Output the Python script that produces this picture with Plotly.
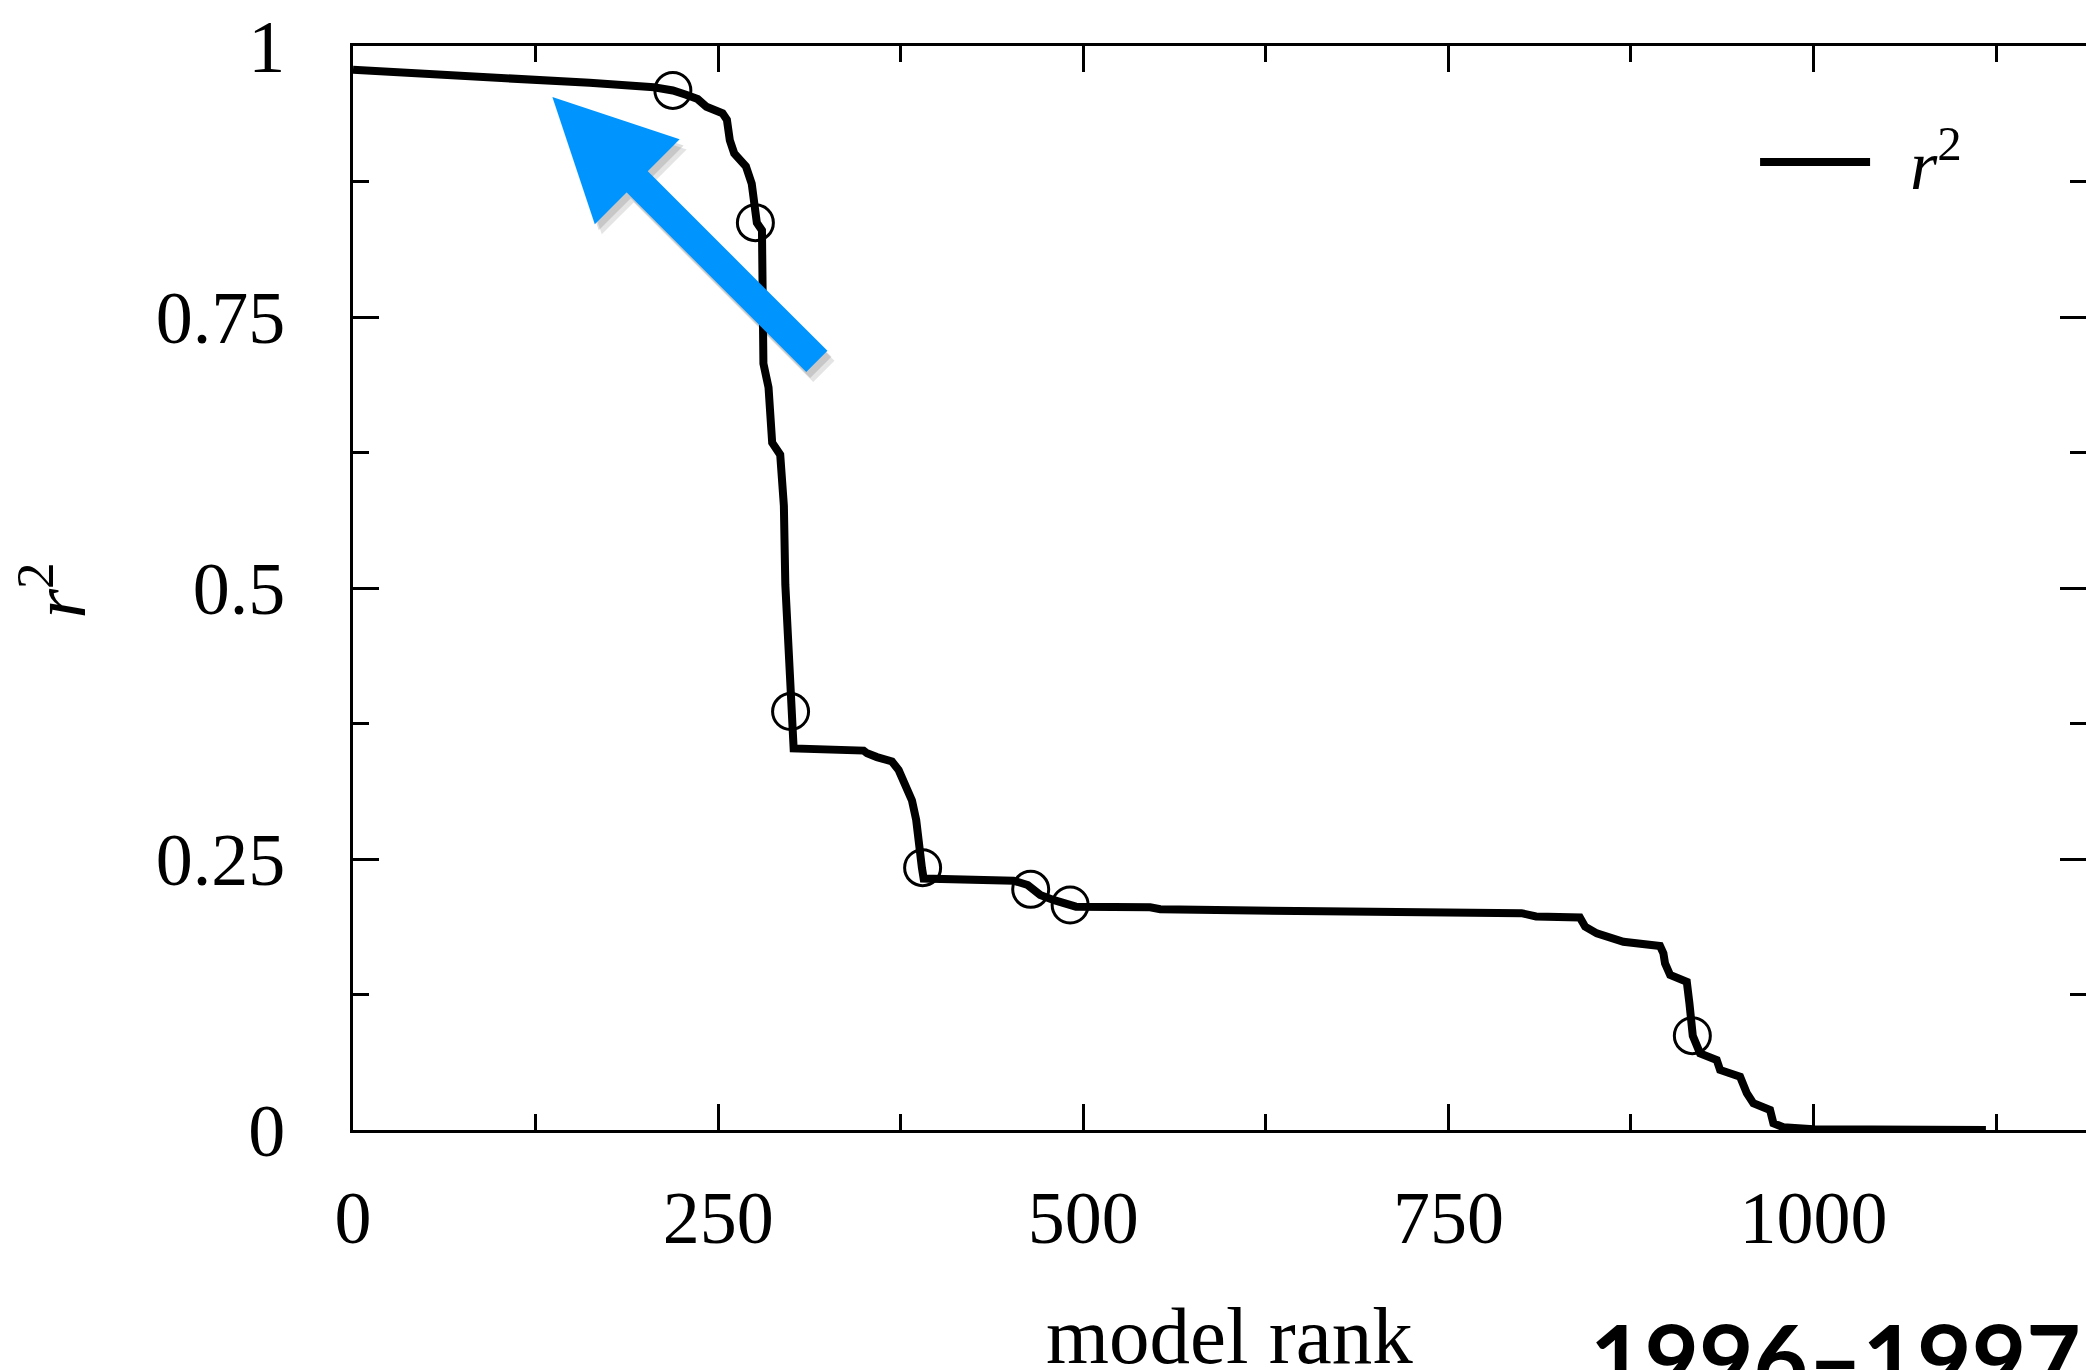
import plotly.graph_objects as go

# ---- data ----
rank = [0, 60, 120, 162, 206, 219, 228, 236, 242, 253, 256, 258, 261, 265, 269, 273,
        275.5, 276.5, 280, 280.5, 281, 284.5, 287, 292.5, 295, 296, 297.6, 299.4, 301.7,
        349.6, 352, 358.7, 369, 373.6, 378, 382.7, 385.6, 387.2, 389.5, 390.7,
        452.3, 462, 470.5, 480, 491, 495, 545.8, 552.7, 663.8, 782, 800, 810, 840,
        843.6, 851.6, 869.8, 894.9, 897.2, 898.3, 901.8, 913.2, 915, 917.3, 922.3,
        933.7, 936, 949.7, 954.3, 958.8, 970.2, 972.5, 979.3, 1000, 1118]
r2 = [0.978, 0.974, 0.969, 0.966, 0.962, 0.959, 0.955, 0.951, 0.944, 0.938, 0.932, 0.913,
      0.901, 0.895, 0.889, 0.873, 0.852, 0.837, 0.830, 0.758, 0.707, 0.685, 0.634, 0.623,
      0.576, 0.503, 0.448, 0.387, 0.352, 0.350, 0.3475, 0.344, 0.340, 0.332, 0.320,
      0.304, 0.286, 0.261, 0.242, 0.232, 0.230, 0.226, 0.2168, 0.212, 0.207, 0.206,
      0.2054, 0.2036, 0.2017, 0.2014, 0.200, 0.197, 0.196, 0.1876, 0.1814, 0.1737,
      0.1697, 0.163, 0.1538, 0.143, 0.1368, 0.117, 0.087, 0.0707, 0.0646, 0.0554,
      0.0492, 0.0339, 0.0246, 0.0185, 0.0062, 0.0025, 0.0006, 0.0]

circle_rank = [219, 275.5, 299.6, 390, 464, 491, 917]
circle_r2 = [0.959, 0.837, 0.386, 0.242, 0.222, 0.2076, 0.087]

x_tickvals = [0, 250, 500, 750, 1000]
x_ticktext = ["0", "250", "500", "750", "1000"]
x_minorvals = [125, 375, 625, 875, 1125]
y_tickvals = [0, 0.25, 0.5, 0.75, 1]
y_ticktext = ["0", "0.25", "0.5", "0.75", "1"]
y_minorvals = [0.125, 0.375, 0.625, 0.875]

legend_label = "&nbsp;&nbsp;<i>r</i><sup>2</sup>"
x_title = "model rank"
y_title = "<i>r</i><sup>2</sup>"
period_label = "1996\u20131997"

# arrow (annotation) endpoints in data units
arrow_tip = (136.5, 0.953)
arrow_tail = (318.6, 0.7076)

# ---- layout geometry ----
W, H = 2086, 1370
L, T, B = 352.6, 46, 240
px_per_unit = 1.4609
xmax = (W - L) / px_per_unit
plot_w = W - L
plot_h = H - T - B

serif = "Liberation Serif"

fig = go.Figure()
fig.add_trace(go.Scatter(
    x=rank, y=r2, mode="lines", name=legend_label,
    line=dict(color="black", width=8), showlegend=True, hoverinfo="skip"))
fig.add_trace(go.Scatter(
    x=circle_rank, y=circle_r2, mode="markers", yaxis="y2", showlegend=False,
    marker=dict(symbol="circle-open", size=36, color="black", line=dict(width=3)),
    hoverinfo="skip"))

axis_common = dict(showgrid=False, zeroline=False, showline=True, linecolor="black",
                   linewidth=3, ticks="inside", tickcolor="black", tickwidth=3,
                   ticklen=26)

fig.update_layout(
    width=W, height=H,
    margin=dict(l=L, r=0, t=T, b=B, pad=0),
    paper_bgcolor="white", plot_bgcolor="white",
    font=dict(family=serif, color="black", size=74),
    xaxis=dict(range=[0, xmax], tickmode="array", tickvals=x_tickvals, ticktext=x_ticktext,
               mirror="ticks", tickfont=dict(size=74, family=serif), ticklabelstandoff=21,
               minor=dict(tickvals=x_minorvals, ticks="inside", ticklen=16, tickwidth=3,
                          tickcolor="black", showgrid=False),
               **axis_common),
    yaxis=dict(range=[0, 1], tickmode="array", tickvals=y_tickvals, ticktext=y_ticktext,
               tickfont=dict(size=74, family=serif), ticklabelstandoff=50,
               minor=dict(tickvals=y_minorvals, ticks="inside", ticklen=16, tickwidth=3,
                          tickcolor="black", showgrid=False),
               **axis_common),
    yaxis2=dict(range=[0, 1], overlaying="y", side="right", anchor="x",
                tickmode="array", tickvals=y_tickvals, showticklabels=False,
                showgrid=False, zeroline=False, showline=False,
                ticks="inside", tickcolor="black", tickwidth=3, ticklen=26,
                minor=dict(tickvals=y_minorvals, ticks="inside", ticklen=16, tickwidth=3,
                           tickcolor="black", showgrid=False)),
    legend=dict(x=(1755 - L) / plot_w, xanchor="left", y=(1130 - 162) / plot_h,
                yanchor="middle", font=dict(size=70, family=serif), itemwidth=110,
                bgcolor="rgba(0,0,0,0)", borderwidth=0),
    showlegend=True,
)

# soft-ish drop shadow for the arrow (two faint offset copies)
for off_px, alpha in [((7, 10), 0.10), ((4, 6), 0.12)]:
    dx_sh = off_px[0] / px_per_unit
    dy_sh = -off_px[1] / plot_h
    fig.add_annotation(x=arrow_tip[0] + dx_sh, y=arrow_tip[1] + dy_sh, xref="x", yref="y",
                       ax=arrow_tail[0] + dx_sh, ay=arrow_tail[1] + dy_sh, axref="x", ayref="y",
                       text="", showarrow=True, arrowhead=2, arrowsize=0.8, arrowwidth=30,
                       arrowcolor="rgba(0,0,0,%.2f)" % alpha, standoff=0)
fig.add_annotation(x=arrow_tip[0], y=arrow_tip[1], xref="x", yref="y",
                   ax=arrow_tail[0], ay=arrow_tail[1], axref="x", ayref="y",
                   text="", showarrow=True, arrowhead=2, arrowsize=0.8, arrowwidth=30,
                   arrowcolor="#0095FE", standoff=0)

fig.add_annotation(text=y_title, textangle=-90, xref="paper", yref="paper",
                   x=(53 - L) / plot_w, y=(1130 - 590) / plot_h,
                   xanchor="center", yanchor="middle", showarrow=False,
                   font=dict(size=76, family=serif))
fig.add_annotation(text=x_title, xref="x", yref="paper", x=600,
                   y=(1130 - 1289) / plot_h, xanchor="center", yanchor="top",
                   showarrow=False, font=dict(size=81, family=serif))
fig.add_annotation(text="<b>" + period_label + "</b>", xref="paper", yref="paper",
                   x=(1588 - L) / plot_w, y=(1130 - 1298) / plot_h,
                   xanchor="left", yanchor="top", showarrow=False,
                   font=dict(size=94, family="Lato", color="black"))

fig.write_html("out.html", config={"displayModeBar": False},
               post_script="document.body.style.margin='0';")
